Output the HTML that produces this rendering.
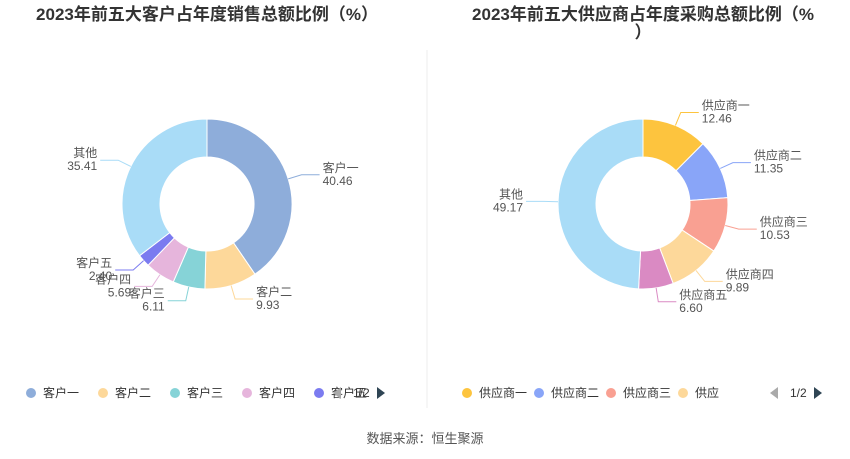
<!DOCTYPE html>
<html><head><meta charset="utf-8"><style>
body{margin:0;background:#fff;}
svg{display:block;font-family:"Liberation Sans","Noto Sans CJK SC",sans-serif;}
</style></head><body>
<svg id="c" width="850" height="459" viewBox="0 0 850 459">
<text x="207" y="20" text-anchor="middle" font-size="17" font-weight="bold" fill="#333">2023年前五大客户占年度销售总额比例（%）</text>
<text x="643" y="20" text-anchor="middle" font-size="17" font-weight="bold" fill="#333">2023年前五大供应商占年度采购总额比例（%</text>
<text x="643" y="38" text-anchor="middle" font-size="17" font-weight="bold" fill="#333">）</text>
<line x1="427" y1="50" x2="427" y2="408" stroke="#eee"/>
<g id="left"></g>
<g id="right"></g>
<g id="legL"></g>
<g id="legR"></g>
<text x="425" y="443" text-anchor="middle" font-size="13" fill="#555">数据来源：恒生聚源</text>
</svg>
<script>
const leftCats=["客户一","客户二","客户三","客户四","客户五","其他"];
const leftVals=[40.46,9.93,6.11,5.69,2.40,35.41];
const leftColors=["#8eadda","#fdd89a","#86d3d7","#e6b5dc","#7b7bf0","#a9dcf7"];
const rightCats=["供应商一","供应商二","供应商三","供应商四","供应商五","其他"];
const rightVals=[12.46,11.35,10.53,9.89,6.60,49.17];
const rightColors=["#fdc43e","#89a5f8","#f9a092","#fdd89a","#da8ac3","#a9dcf7"];
const NS="http://www.w3.org/2000/svg";
function mk(t,a,p){const e=document.createElementNS(NS,t);for(const k in a)e.setAttribute(k,a[k]);p.appendChild(e);return e;}
function donut(g,cats,vals,cols,cx,cy,name){
  const tot=vals.reduce((a,b)=>a+b,0);const R=85,r=47;let a0=0;
  vals.forEach((v,i)=>{
    const a1=a0+v/tot*Math.PI*2;
    const P=(rad,a)=>[cx+rad*Math.sin(a),cy-rad*Math.cos(a)];
    const [x1,y1]=P(R,a0),[x2,y2]=P(R,a1),[x3,y3]=P(r,a1),[x4,y4]=P(r,a0);
    const lg=(a1-a0)>Math.PI?1:0;
    const p=mk("path",{d:`M${x1},${y1}A${R},${R} 0 ${lg} 1 ${x2},${y2}L${x3},${y3}A${r},${r} 0 ${lg} 0 ${x4},${y4}Z`,fill:cols[i],stroke:"#fff","stroke-width":1},g);
    
    
    const am=(a0+a1)/2;const [lx,ly]=P(R,am);const [mx,my]=P(R+14,am);
    const right=Math.sin(am)>=0;const ex=mx+(right?18:-18);
    const l=mk("polyline",{points:`${lx},${ly} ${mx},${my} ${ex},${my}`,fill:"none",stroke:cols[i]},g);
    
    
    const tx=ex+(right?3:-3),anc=right?"start":"end";
    const t1=mk("text",{x:tx,y:my-3,"text-anchor":anc,"font-size":12,fill:"#555"},g);t1.textContent=cats[i];
    
    
    const t2=mk("text",{x:tx,y:my+10,"text-anchor":anc,"font-size":12,fill:"#555"},g);t2.textContent=vals[i].toFixed(2);
    
    
    a0=a1;
  });
}
donut(document.getElementById("left"),leftCats,leftVals,leftColors,207,204,"left");
donut(document.getElementById("right"),rightCats,rightVals,rightColors,643,204,"right");
function legend(g,cats,cols,x0,step,n,name,cut){
  for(let i=0;i<n;i++){
    const x=x0+i*step;
    const c=mk("circle",{cx:x,cy:393,r:5,fill:cols[i]},g);
    
    
    let s=cats[i];if(i===n-1&&cut)s=s.slice(0,cut);
    const t=mk("text",{x:x+12,y:397,"font-size":12,fill:"#333"},g);t.textContent=s;
    
    
  }
}
legend(document.getElementById("legL"),leftCats,leftColors,31,72,5,"left-legend",0);
legend(document.getElementById("legR"),rightCats,rightColors,467,72,4,"right-legend",2);
function pager(g,x,name){
  const a=mk("polygon",{points:`${x+8},387 ${x},393 ${x+8},399`,fill:"#aaa"},g);
  
  
  const t=mk("text",{x:x+20,y:397,"font-size":12,fill:"#333"},g);t.textContent="1/2";
  
  
  const b=mk("polygon",{points:`${x+44},387 ${x+52},393 ${x+44},399`,fill:"#2f4554"},g);
  
  
}
pager(document.getElementById("legL"),333,"left-legend");
pager(document.getElementById("legR"),770,"right-legend");
</script>
</body></html>
